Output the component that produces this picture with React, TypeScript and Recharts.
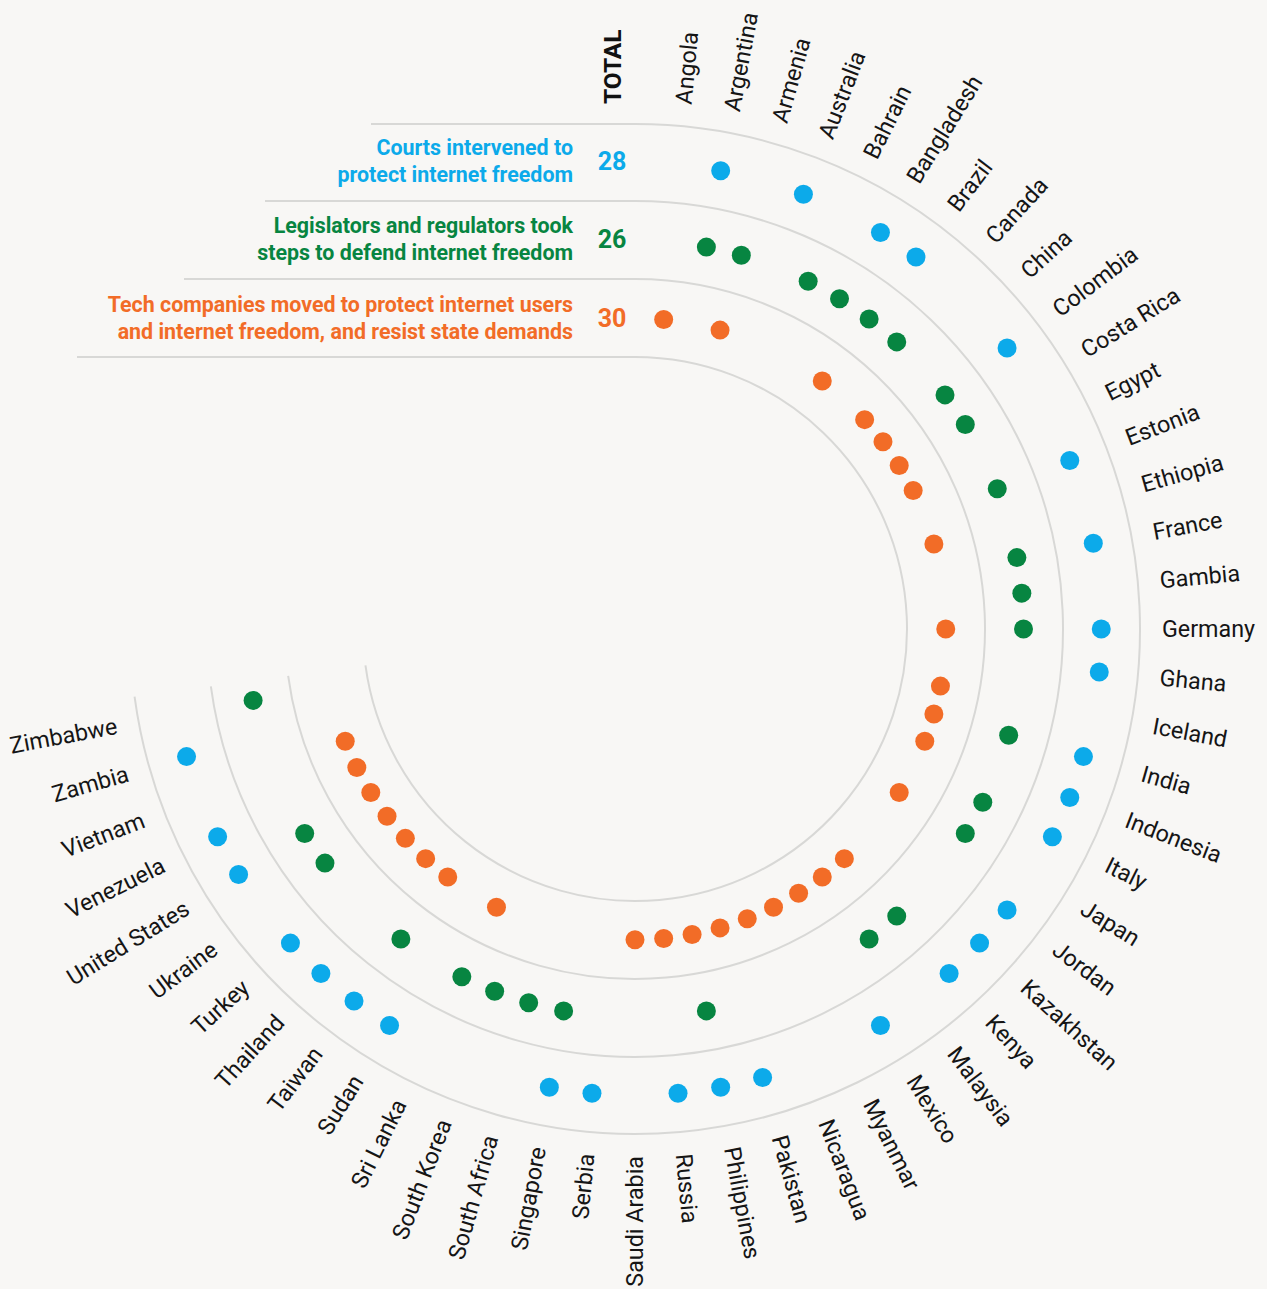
import React from "react";
import { RadarChart, Radar, PolarAngleAxis, PolarRadiusAxis } from "recharts";

// countries in clockwise order, starting after the TOTAL column
const countries = [
  "Angola", "Argentina", "Armenia", "Australia", "Bahrain", "Bangladesh", "Brazil",
  "Canada", "China", "Colombia", "Costa Rica", "Egypt", "Estonia", "Ethiopia",
  "France", "Gambia", "Germany", "Ghana", "Iceland", "India", "Indonesia", "Italy",
  "Japan", "Jordan", "Kazakhstan", "Kenya", "Malaysia", "Mexico", "Myanmar",
  "Nicaragua", "Pakistan", "Philippines", "Russia", "Saudi Arabia", "Serbia",
  "Singapore", "South Africa", "South Korea", "Sri Lanka", "Sudan", "Taiwan",
  "Thailand", "Turkey", "Ukraine", "United States", "Venezuela", "Vietnam",
  "Zambia", "Zimbabwe",
];

const courts = [
  "Argentina", "Australia", "Bangladesh", "Brazil", "Colombia", "Estonia", "France",
  "Germany", "Ghana", "India", "Indonesia", "Italy", "Jordan", "Kazakhstan", "Kenya",
  "Mexico", "Pakistan", "Philippines", "Russia", "Serbia", "Singapore", "Sudan",
  "Taiwan", "Thailand", "Turkey", "United States", "Venezuela", "Zambia",
];

const legislators = [
  "Argentina", "Armenia", "Bahrain", "Bangladesh", "Brazil", "Canada", "Colombia",
  "Costa Rica", "Estonia", "France", "Gambia", "Germany", "India", "Italy", "Japan",
  "Kenya", "Malaysia", "Philippines", "Singapore", "South Africa", "South Korea",
  "Sri Lanka", "Taiwan", "Ukraine", "United States", "Zimbabwe",
];

const techCompanies = [
  "Angola", "Armenia", "Brazil", "China", "Colombia", "Costa Rica", "Egypt",
  "Ethiopia", "Germany", "Iceland", "India", "Indonesia", "Japan", "Kenya",
  "Malaysia", "Mexico", "Myanmar", "Nicaragua", "Pakistan", "Philippines", "Russia",
  "Saudi Arabia", "Sri Lanka", "Taiwan", "Thailand", "Turkey", "Ukraine",
  "United States", "Venezuela", "Vietnam",
];

const seriesLabels = [
  ["Courts intervened to", "protect internet freedom"],
  ["Legislators and regulators took", "steps to defend internet freedom"],
  ["Tech companies moved to protect internet users", "and internet freedom, and resist state demands"],
];

const W = 1267;
const H = 1289;
const CX = 635;
const CY = 629;
const SLOTS = 68; // angular slots in a full turn
const LABEL_R = 527;
const BG = "#f8f7f5";
const BLUE = "#0caaea";
const GREEN = "#078541";
const ORANGE = "#f26c27";
const GRID = "#d8d8d6";
const FONT = "Roboto, sans-serif";

// ring level on the radius axis: 3 = outer (courts), 1 = inner (tech)
const data = countries.map((name, i) => ({
  idx: i + 1,
  name,
  courts: courts.includes(name) ? 3 : null,
  legislators: legislators.includes(name) ? 2 : null,
  tech: techCompanies.includes(name) ? 1 : null,
}));

const makeDot = (color: string, key: string) => (props: any) => {
  const { cx, cy, index, payload } = props;
  const row = payload && payload.payload ? payload.payload : payload;
  const v = row ? row[key] : null;
  if (v == null || !Number.isFinite(cx) || !Number.isFinite(cy)) return <g key={`e-${key}-${index}`} />;
  return <circle key={`d-${key}-${index}`} cx={cx} cy={cy} r={9.5} fill={color} />;
};

const CountryTick = (props: any) => {
  const { payload } = props;
  const name = countries[payload.value - 1];
  if (!name) return <g />;
  const a = payload.coordinate; // degrees, counter-clockwise from east
  const rad = (-a * Math.PI) / 180;
  const x = CX + LABEL_R * Math.cos(rad);
  const y = CY + LABEL_R * Math.sin(rad);
  const theta = 90 - a; // clockwise from top
  const flip = theta > 179;
  const rot = flip ? theta - 270 : theta - 90;
  return (
    <text
      x={x}
      y={y}
      transform={`rotate(${rot} ${x} ${y})`}
      textAnchor={flip ? "end" : "start"}
      dominantBaseline="central"
      fontFamily={FONT}
      fontSize={23.3}
      fill="#151515"
    >
      {name}
    </text>
  );
};

// grid arcs: start with a horizontal rule on the left, then sweep clockwise
const arcRadii = [505, 428, 350, 272];
const ruleStarts = [371, 265, 184, 77];
const ARC_END = 262.3;

function arcPath(r: number, startX: number) {
  const t = (ARC_END * Math.PI) / 180;
  const ex = CX + r * Math.sin(t);
  const ey = CY - r * Math.cos(t);
  return `M ${startX} ${CY - r} L ${CX} ${CY - r} A ${r} ${r} 0 1 1 ${ex} ${ey}`;
}

const App: React.FC = () => {
  const totals = [courts.length, legislators.length, techCompanies.length];
  const colors = [BLUE, GREEN, ORANGE];
  const lineY = [[155, 182], [233, 260], [312, 339]];
  const numY = [170, 248, 327];

  return (
    <div style={{ position: "absolute", left: 0, top: 0, width: W, height: H, background: BG }}>
      <svg width={W} height={H} style={{ position: "absolute", left: 0, top: 0 }}>
        {arcRadii.map((r, i) => (
          <path key={r} d={arcPath(r, ruleStarts[i])} fill="none" stroke={GRID} strokeWidth={2} />
        ))}
        <text
          x={612}
          y={104}
          transform="rotate(-90 612 104)"
          dominantBaseline="central"
          fontFamily={FONT}
          fontWeight={700}
          fontSize={24.5}
          fill="#111"
        >
          TOTAL
        </text>
        {seriesLabels.map((lines, i) => (
          <g key={i} fill={colors[i]} fontFamily={FONT} fontWeight={700}>
            {lines.map((t, j) => (
              <text key={j} x={573} y={lineY[i][j]} textAnchor="end" fontSize={21.4}>
                {t}
              </text>
            ))}
            <text x={612} y={numY[i]} textAnchor="middle" fontSize={25}>
              {totals[i]}
            </text>
          </g>
        ))}
      </svg>
      <div style={{ position: "absolute", left: 0, top: 0 }}>
        <RadarChart
          width={W}
          height={H}
          data={data}
          cx={CX}
          cy={CY}
          innerRadius={233}
          outerRadius={544}
          startAngle={90}
          endAngle={-270}
          margin={{ top: 0, right: 0, bottom: 0, left: 0 }}
        >
          <PolarAngleAxis
            dataKey="idx"
            type="number"
            domain={[0, SLOTS]}
            ticks={data.map((d) => d.idx)}
            tick={<CountryTick />}
            axisLine={false}
            tickLine={false}
          />
          <PolarRadiusAxis type="number" domain={[0, 4]} tick={false} axisLine={false} />
          <Radar dataKey="courts" stroke="none" fill="none" dot={makeDot(BLUE, "courts")} activeDot={false} isAnimationActive={false} />
          <Radar dataKey="legislators" stroke="none" fill="none" dot={makeDot(GREEN, "legislators")} activeDot={false} isAnimationActive={false} />
          <Radar dataKey="tech" stroke="none" fill="none" dot={makeDot(ORANGE, "tech")} activeDot={false} isAnimationActive={false} />
        </RadarChart>
      </div>
    </div>
  );
};

export default App;
